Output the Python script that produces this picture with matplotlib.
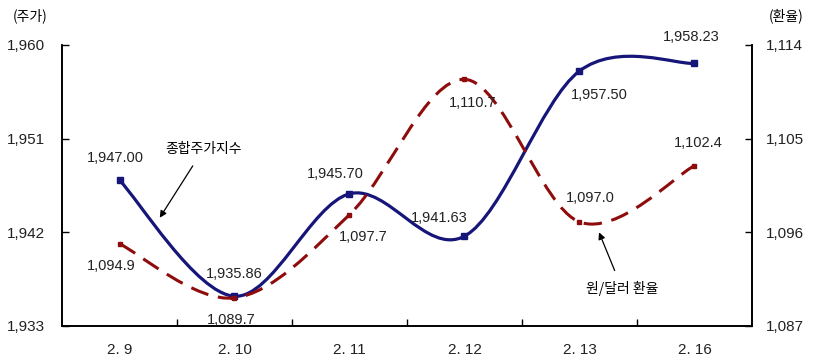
import numpy as np
import matplotlib
matplotlib.use('Agg')
from matplotlib import pyplot as plt
from matplotlib.path import Path
from matplotlib.patches import PathPatch

plt.rcParams['font.family'] = ['Liberation Sans', 'Noto Sans CJK KR', 'DejaVu Sans']

dates = ['2. 9', '2. 10', '2. 11', '2. 12', '2. 13', '2. 16']
kospi = [1947.00, 1935.86, 1945.70, 1941.63, 1957.50, 1958.23]
fx = [1094.9, 1089.7, 1097.7, 1110.7, 1097.0, 1102.4]
kospi_labels = ['1,947.00', '1,935.86', '1,945.70', '1,941.63', '1,957.50', '1,958.23']
fx_labels = ['1,094.9', '1,089.7', '1,097.7', '1,110.7', '1,097.0', '1,102.4']

BLUE = '#16167a'
RED = '#8e0c0c'


def smooth_path(xs, ys):
	# excel style smoothed line: cubic bezier with catmull-rom control points
	xs = list(xs); ys = list(ys)
	px = [xs[0]] + xs + [xs[-1]]
	py = [ys[0]] + ys + [ys[-1]]
	verts = [(xs[0], ys[0])]
	codes = [Path.MOVETO]
	for i in range(1, len(px) - 2):
		c1 = (px[i] + (px[i + 1] - px[i - 1]) / 6, py[i] + (py[i + 1] - py[i - 1]) / 6)
		c2 = (px[i + 1] - (px[i + 2] - px[i]) / 6, py[i + 1] - (py[i + 2] - py[i]) / 6)
		verts += [c1, c2, (px[i + 1], py[i + 1])]
		codes += [Path.CURVE4] * 3
	return Path(verts, codes)


fig = plt.figure(figsize=(8.17, 3.64), dpi=100)
ax = fig.add_axes([0.0759, 0.1044, 0.8445, 0.7720])
ax2 = ax.twinx()

x = np.arange(len(dates))

ax.add_patch(PathPatch(smooth_path(x, kospi), fill=False, edgecolor=BLUE, lw=2.3, zorder=3))
ax.plot(x, kospi, 's', color=BLUE, ms=4, zorder=4)

ax2.add_patch(PathPatch(smooth_path(x, fx), fill=False, edgecolor=RED, lw=2.2,
	linestyle=(0, (6, 3.2)), zorder=3))
ax2.plot(x, fx, 's', color=RED, ms=3, zorder=4)

ax.set_xlim(-0.5, 5.5)
ax.set_ylim(1933, 1960)
ax2.set_ylim(1087, 1114)
ax.set_yticks([1933, 1942, 1951, 1960])
ax.set_yticklabels(['1,933', '1,942', '1,951', '1,960'])
ax2.set_yticks([1087, 1096, 1105, 1114])
ax2.set_yticklabels(['1,087', '1,096', '1,105', '1,114'])

ax.set_xticks(x)
ax.set_xticklabels(dates)
ax.set_xticks(np.arange(0.5, 5.5, 1), minor=True)
ax.tick_params(axis='x', which='major', length=0, pad=12, labelsize=11, labelcolor='#222222')
ax.tick_params(axis='x', which='minor', direction='in', length=5, width=1)
ax.tick_params(axis='y', direction='in', length=5, width=1, labelsize=11, pad=12, labelcolor='#222222')
ax2.tick_params(axis='y', direction='in', length=5, width=1, labelsize=11, pad=10, labelcolor='#222222')

for a in (ax, ax2):
	a.spines['top'].set_visible(False)
	for s in ('left', 'right', 'bottom'):
		a.spines[s].set_linewidth(1.2)

# value labels
kospi_off = [(-3, 16), (0, 16), (-10, 14), (-18, 13), (14, -17), (-2, 19)]
fx_off = [(-6, -16), (-2, -16), (10, -16), (6, -17), (8, 17), (3, 16)]
for i in range(len(dates)):
	ax.annotate(kospi_labels[i], (x[i], kospi[i]), xytext=kospi_off[i], textcoords='offset points',
		ha='center', va='center', fontsize=10.5, color='#222222', zorder=5)
	ax2.annotate(fx_labels[i], (x[i], fx[i]), xytext=fx_off[i], textcoords='offset points',
		ha='center', va='center', fontsize=10.5, color='#222222', zorder=5)

# series name callouts
ax.annotate('종합주가지수', xy=(0.35, 1943.4), xytext=(0.73, 1950.0), fontsize=10,
	family=['Noto Sans CJK KR', 'DejaVu Sans'], ha='center', va='center',
	arrowprops=dict(arrowstyle='-|>', color='black', lw=0.9, shrinkA=6, shrinkB=0, mutation_scale=10))
ax2.annotate('원/달러 환율', xy=(4.17, 1096.0), xytext=(4.37, 1090.6), fontsize=10,
	family=['Noto Sans CJK KR', 'DejaVu Sans'], ha='center', va='center',
	arrowprops=dict(arrowstyle='-|>', color='black', lw=0.9, shrinkA=6, shrinkB=0, mutation_scale=10))

fig.text(0.037, 0.958, '(주가)', ha='center', va='center', fontsize=10,
	family=['Noto Sans CJK KR', 'DejaVu Sans'])
fig.text(0.962, 0.958, '(환율)', ha='center', va='center', fontsize=10,
	family=['Noto Sans CJK KR', 'DejaVu Sans'])

plt.savefig('out.png', dpi=100)
